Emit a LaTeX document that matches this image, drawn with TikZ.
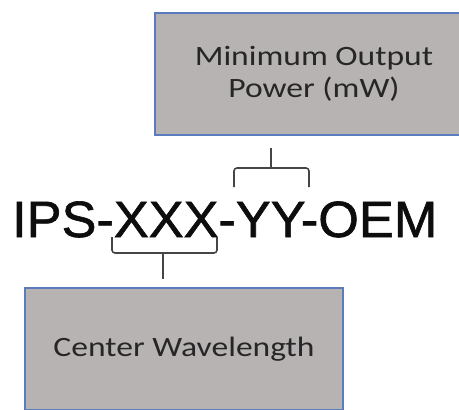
\documentclass[tikz,border=0pt]{standalone}
\usepackage{fontspec}
\setmainfont{Liberation Sans}
\newfontfamily\boxfont[FakeStretch=1.2]{Carlito}
\newfontfamily\codefont[FakeStretch=1.025, FakeBold=1.2]{Liberation Sans}
\definecolor{boxgray}{HTML}{B8B3B3}
\definecolor{boxblue}{HTML}{5B7BBF}
\definecolor{bracegray}{HTML}{454545}
\begin{document}
\begin{tikzpicture}[x=1pt, y=-1pt,
    box/.style={draw=boxblue, line width=2.5pt, fill=boxgray, minimum width=318pt,
      minimum height=122pt, inner sep=0pt, align=center, text=black!85,
      font=\boxfont\fontsize{28}{32}\selectfont},
    brace/.style={draw=bracegray, line width=1.6pt, rounded corners=3pt}]
  \useasboundingbox (0,0) rectangle (459,410);
  \begin{scope}
    \clip (0,0) rectangle (459,410);
    \node[box] (power) at (314,74) {Minimum Output\\Power (mW)};
    \node[box] (wave) at (184,349) {Center Wavelength};
  \end{scope}
  \node[font=\codefont\fontsize{51}{60}\selectfont, inner sep=0pt, anchor=base west,
    text=black!95] (code) at (12,237) {IPS-XXX-YY-OEM};
  \foreach \l/\r/\t/\b/\m/\n in {112/217/237/253/163/xb, 234/309/187/168/271/yb} {
    \draw[brace] (\l,\t) -- (\l,\b) -- (\r,\b) -- (\r,\t);
    \coordinate (\n) at (\m,\b);
  }
  \draw[brace, shorten >=8pt] (xb) -- (xb |- wave.north);
  \draw[brace, shorten >=12pt] (yb) -- (yb |- power.south);
\end{tikzpicture}
\end{document}
